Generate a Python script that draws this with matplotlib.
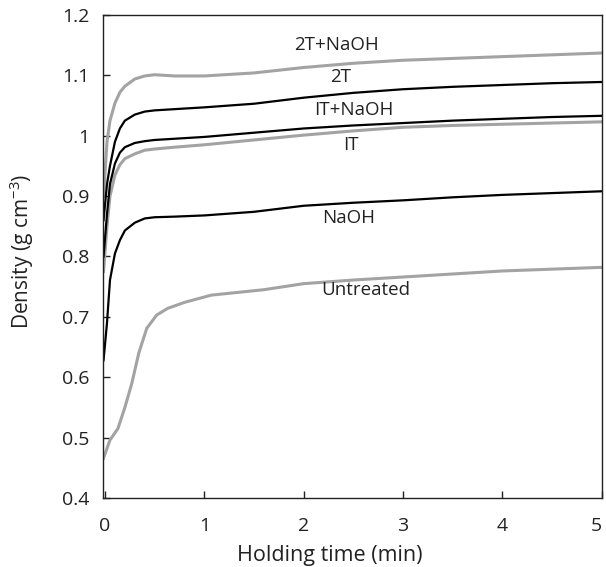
import matplotlib
matplotlib.use("Agg")
import matplotlib.pyplot as plt
from matplotlib.ticker import FormatStrFormatter

# data (time in min, density in g/cm3)
t = [-0.015, 0.02, 0.05, 0.1, 0.15, 0.2, 0.3, 0.4, 0.5, 0.7, 1.0, 1.5, 2.0, 2.5, 3.0, 3.5, 4.0, 4.5, 5.0]
d_2t_naoh = [0.90, 0.99, 1.025, 1.054, 1.072, 1.082, 1.094, 1.099, 1.101, 1.099, 1.099, 1.104, 1.113, 1.120, 1.125, 1.128, 1.131, 1.134, 1.137]
d_2t = [0.86, 0.92, 0.95, 0.99, 1.012, 1.025, 1.035, 1.040, 1.042, 1.044, 1.047, 1.053, 1.063, 1.071, 1.077, 1.081, 1.084, 1.087, 1.089]
d_it_naoh = [0.80, 0.87, 0.92, 0.954, 0.972, 0.981, 0.988, 0.991, 0.993, 0.995, 0.998, 1.005, 1.012, 1.017, 1.021, 1.025, 1.028, 1.031, 1.033]
d_it = [0.775, 0.85, 0.90, 0.935, 0.952, 0.962, 0.970, 0.976, 0.978, 0.981, 0.985, 0.993, 1.001, 1.008, 1.014, 1.017, 1.019, 1.021, 1.023]
d_naoh = [0.628, 0.69, 0.761, 0.805, 0.827, 0.843, 0.856, 0.863, 0.865, 0.866, 0.868, 0.874, 0.884, 0.889, 0.893, 0.898, 0.902, 0.905, 0.908]

t_untr = [-0.015, 0.05, 0.13, 0.2, 0.27, 0.34, 0.42, 0.52, 0.63, 0.8, 1.07, 1.6, 2.0, 2.5, 3.0, 3.5, 4.0, 4.5, 5.0]
d_untr = [0.466, 0.496, 0.515, 0.55, 0.59, 0.64, 0.681, 0.703, 0.714, 0.724, 0.736, 0.745, 0.755, 0.761, 0.766, 0.771, 0.776, 0.779, 0.782]

labels = ["2T+NaOH", "2T", "IT+NaOH", "IT", "NaOH", "Untreated"]
label_pos = [(2.33, 1.150), (2.37, 1.097), (2.50, 1.043), (2.48, 0.985), (2.45, 0.863), (2.62, 0.745)]

plt.rcParams['font.family'] = ['Open Sans', 'DejaVu Sans']
plt.rcParams['mathtext.fontset'] = 'custom'
plt.rcParams['mathtext.rm'] = 'Open Sans'
plt.rcParams['mathtext.it'] = 'Open Sans'

GRAY = '#a3a3a3'
fig = plt.figure(figsize=(6.06, 5.67), dpi=100)
ax = fig.add_axes([0.1705, 0.1217, 0.8224, 0.8519])

ax.plot(t_untr, d_untr, color=GRAY, lw=2.2)
ax.plot(t, d_it, color=GRAY, lw=2.2)
ax.plot(t, d_2t_naoh, color=GRAY, lw=2.2)
ax.plot(t, d_naoh, color='black', lw=1.6)
ax.plot(t, d_it_naoh, color='black', lw=1.6)
ax.plot(t, d_2t, color='black', lw=1.6)

for lab, (x, y) in zip(labels, label_pos):
    ax.text(x, y, lab, ha='center', va='center', fontsize=13.5, color='#222222')

ax.set_xlim(-0.017, 5.0)
ax.set_ylim(0.4, 1.2)
ax.set_xticks([0, 1, 2, 3, 4, 5])
ax.set_yticks([0.4, 0.5, 0.6, 0.7, 0.8, 0.9, 1.0, 1.1, 1.2])
ax.yaxis.set_major_formatter(FormatStrFormatter('%g'))
ax.tick_params(direction='in', length=5, width=1, labelsize=14, colors='#222222')
ax.tick_params(axis='x', pad=14)
ax.tick_params(axis='y', pad=10)
ax.get_xticklabels()[-1].set_ha('right')
for s in ax.spines.values():
    s.set_linewidth(1.0)
    s.set_color('#222222')

ax.set_xlabel('Holding time (min)', fontsize=15.5, color='#222222')
ax.set_ylabel('Density (g cm$^{-3}$)', fontsize=15, color='#222222')
ax.xaxis.set_label_coords(0.455, -0.097)
ax.yaxis.set_label_coords(-0.135, 0.51)

fig.savefig('out.png', dpi=100)
